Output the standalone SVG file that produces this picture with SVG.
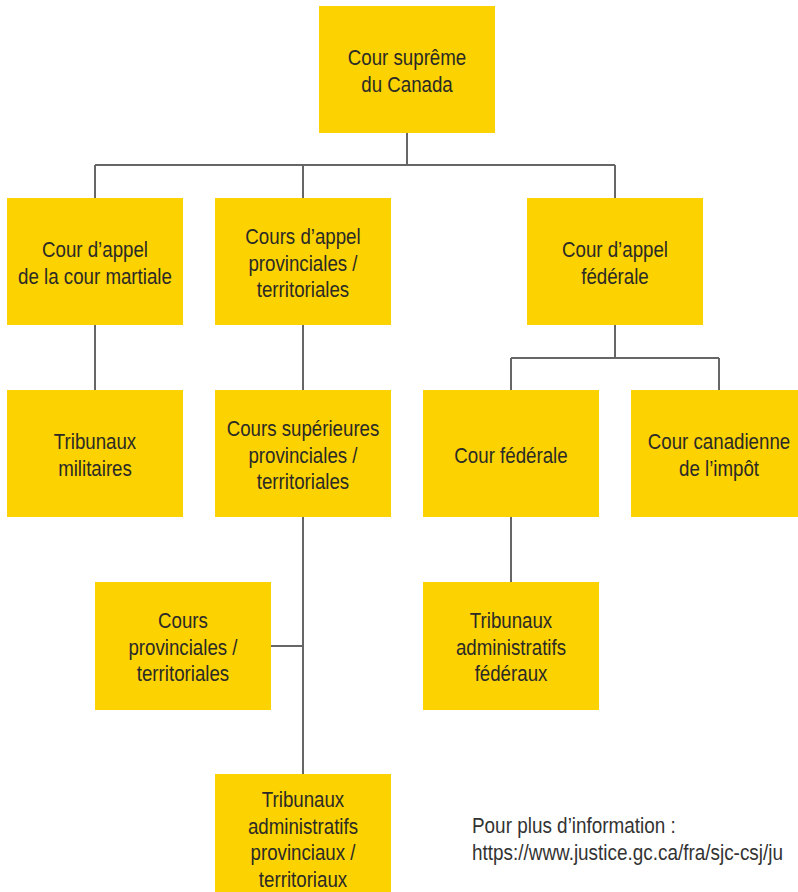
<svg xmlns="http://www.w3.org/2000/svg" width="798" height="892" viewBox="0 0 798 892">
<style>
.box{fill:#FCD200}
.t{font-family:"Liberation Sans",Arial,sans-serif;font-size:22px;fill:#2b2a26;text-anchor:middle}
.f{font-family:"Liberation Sans",Arial,sans-serif;font-size:22px;fill:#333}
.c{stroke:#666;stroke-width:2;fill:none}
</style>
<rect width="798" height="892" fill="#fff"/>
<g id="connectors">
<path class="c" d="M407 133V165M95 165H615M95 165V198M303 165V198M615 165V198"/>
<path class="c" d="M95 325V390M303 325V390"/>
<path class="c" d="M615 325V358M511 358H719M511 358V390M719 358V390"/>
<path class="c" d="M511 517V582"/>
<path class="c" d="M303 517V774M271 646H303"/>
</g>
<g id="n-supreme"><rect class="box" x="319" y="6" width="176" height="127"/><text class="t" transform="translate(407 65) scale(0.85 1)">Cour suprême</text><text class="t" transform="translate(407 92) scale(0.85 1)">du Canada</text></g>
<g id="n-martiale"><rect class="box" x="7" y="198" width="176" height="127"/><text class="t" transform="translate(95 257) scale(0.85 1)">Cour d’appel</text><text class="t" transform="translate(95 284) scale(0.85 1)">de la cour martiale</text></g>
<g id="n-appel-prov"><rect class="box" x="215" y="198" width="176" height="127"/><text class="t" transform="translate(303 244) scale(0.85 1)">Cours d’appel</text><text class="t" transform="translate(303 270.5) scale(0.85 1)">provinciales /</text><text class="t" transform="translate(303 297) scale(0.85 1)">territoriales</text></g>
<g id="n-appel-fed"><rect class="box" x="527" y="198" width="176" height="127"/><text class="t" transform="translate(615 257) scale(0.85 1)">Cour d’appel</text><text class="t" transform="translate(615 284) scale(0.85 1)">fédérale</text></g>
<g id="n-militaires"><rect class="box" x="7" y="390" width="176" height="127"/><text class="t" transform="translate(95 449) scale(0.85 1)">Tribunaux</text><text class="t" transform="translate(95 476) scale(0.85 1)">militaires</text></g>
<g id="n-superieures"><rect class="box" x="215" y="390" width="176" height="127"/><text class="t" transform="translate(303 436) scale(0.85 1)">Cours supérieures</text><text class="t" transform="translate(303 462.5) scale(0.85 1)">provinciales /</text><text class="t" transform="translate(303 489) scale(0.85 1)">territoriales</text></g>
<g id="n-federale"><rect class="box" x="423" y="390" width="176" height="127"/><text class="t" transform="translate(511 462.5) scale(0.85 1)">Cour fédérale</text></g>
<g id="n-impot"><rect class="box" x="631" y="390" width="176" height="127"/><text class="t" transform="translate(719 449) scale(0.85 1)">Cour canadienne</text><text class="t" transform="translate(719 476) scale(0.85 1)">de l’impôt</text></g>
<g id="n-provinciales"><rect class="box" x="95" y="582" width="176" height="128"/><text class="t" transform="translate(183 628) scale(0.85 1)">Cours</text><text class="t" transform="translate(183 654.5) scale(0.85 1)">provinciales /</text><text class="t" transform="translate(183 681) scale(0.85 1)">territoriales</text></g>
<g id="n-trib-fed"><rect class="box" x="423" y="582" width="176" height="128"/><text class="t" transform="translate(511 628) scale(0.85 1)">Tribunaux</text><text class="t" transform="translate(511 654.5) scale(0.85 1)">administratifs</text><text class="t" transform="translate(511 681) scale(0.85 1)">fédéraux</text></g>
<g id="n-trib-prov"><rect class="box" x="215" y="774" width="176" height="130"/><text class="t" transform="translate(303 807) scale(0.85 1)">Tribunaux</text><text class="t" transform="translate(303 833.5) scale(0.85 1)">administratifs</text><text class="t" transform="translate(303 860) scale(0.85 1)">provinciaux /</text><text class="t" transform="translate(303 886.5) scale(0.85 1)">territoriaux</text></g>
<g id="footer"><text class="f" transform="translate(472 833) scale(0.86 1)">Pour plus d’information :</text><text class="f" transform="translate(472 860) scale(0.86 1)">https://www.justice.gc.ca/fra/sjc-csj/ju</text></g>
</svg>
